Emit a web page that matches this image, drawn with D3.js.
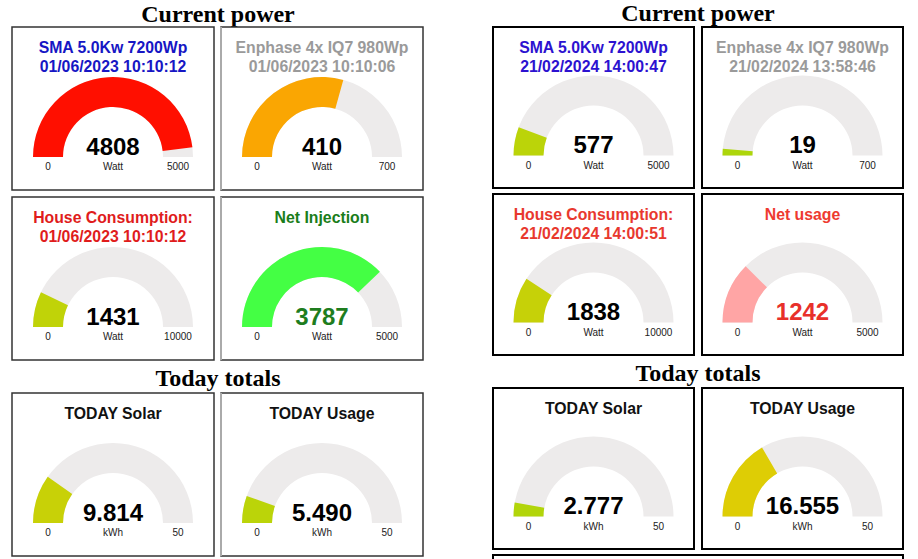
<!DOCTYPE html>
<html>
<head>
<meta charset="utf-8">
<script src="https://cdn.jsdelivr.net/npm/d3@7"></script>
<style>
  body { margin: 0; background: #fff; }
  text { font-family: "Liberation Sans", Arial, sans-serif; }
  .heading { font-family: "Liberation Serif", "Times New Roman", serif; font-weight: bold; font-size: 24px; fill: #000; }
</style>
</head>
<body>
<svg id="canvas"></svg>
<script>
// dashboard 1 (June 2023)
const leftTitles = [
    ["SMA 5.0Kw 7200Wp", "01/06/2023 10:10:12"],
    ["Enphase 4x IQ7 980Wp", "01/06/2023 10:10:06"],
    ["House Consumption:", "01/06/2023 10:10:12"],
    ["Net Injection"],
    ["TODAY Solar"],
    ["TODAY Usage"]
];
const leftValues = [4808, 410, 1431, 3787, 9.814, 5.490];
const leftMax = [5000, 700, 10000, 5000, 50, 50];

// dashboard 2 (February 2024)
const rightTitles = [
    ["SMA 5.0Kw 7200Wp", "21/02/2024 14:00:47"],
    ["Enphase 4x IQ7 980Wp", "21/02/2024 13:58:46"],
    ["House Consumption:", "21/02/2024 14:00:51"],
    ["Net usage"],
    ["TODAY Solar"],
    ["TODAY Usage"]
];
const rightValues = [577, 19, 1838, 1242, 2.777, 16.555];
const rightMax = [5000, 700, 10000, 5000, 50, 50];

const units = ["Watt", "Watt", "Watt", "Watt", "kWh", "kWh"];
const decimals = [0, 0, 0, 0, 3, 3];
const headings = ["Current power", "Today totals"];

const svg = d3.select("#canvas")
    .attr("width", 918)
    .attr("height", 559);

svg.append("rect").attr("width", 918).attr("height", 559).attr("fill", "#fff");

// justgage style level colours
const levelColor = d3.scaleLinear()
    .domain([0, 0.5, 1])
    .range(["#a9d70b", "#f9c802", "#ff0000"]);

const arc = d3.arc().innerRadius(50).outerRadius(80);

const panels = [
    {
        titles: leftTitles, values: leftValues, max: leftMax,
        cols: [12, 221], width: 202, rows: [27, 197, 393], height: 163,
        gaugeOffset: 130, headX: 218, headY: [22, 386],
        stroke: "#333", strokeWidth: 1.5, col2Stroke: "#aaa",
        titleColors: ["#1616c4", "#9a9a9a", "#e01c1c", "#1a7d1a", "#111", "#111"],
        valueColors: ["#000", "#000", "#000", "#1e7d1e", "#000", "#000"],
        fills: [null, null, null, "#44ff44", null, null],
        extra: false
    },
    {
        titles: rightTitles, values: rightValues, max: rightMax,
        cols: [493, 702], width: 201, rows: [27, 194, 388], height: 161,
        gaugeOffset: 128.5, headX: 698, headY: [21, 381],
        stroke: "#000", strokeWidth: 2, col2Stroke: "#000",
        titleColors: ["#2c12d0", "#9a9a9a", "#e8382e", "#ee3a30", "#111", "#111"],
        valueColors: ["#000", "#000", "#000", "#e8302a", "#000", "#000"],
        fills: [null, null, null, "#ffa5a5", null, null],
        extra: true
    }
];

const drawGauge = (g, p, i, bx, by) => {
    const cx = bx + p.width / 2;
    const cy = by + p.gaugeOffset;
    const angle = d3.scaleLinear()
        .domain([0, p.max[i]])
        .range([-Math.PI / 2, Math.PI / 2])
        .clamp(true);

    g.append("path")
        .attr("transform", `translate(${cx},${cy})`)
        .attr("d", arc({ startAngle: -Math.PI / 2, endAngle: Math.PI / 2 }))
        .attr("fill", "#edebeb");

    g.append("path")
        .attr("transform", `translate(${cx},${cy})`)
        .attr("d", arc({ startAngle: -Math.PI / 2, endAngle: angle(p.values[i]) }))
        .attr("fill", p.fills[i] || levelColor(p.values[i] / p.max[i]));

    // title lines
    p.titles[i].forEach((line, k) => {
        g.append("text")
            .attr("x", cx)
            .attr("y", by + 26 + k * 19)
            .attr("text-anchor", "middle")
            .attr("font-size", 15.8)
            .attr("font-weight", "bold")
            .attr("fill", p.titleColors[i])
            .text(line);
    });

    g.append("text")
        .attr("x", cx)
        .attr("y", cy - 2.5)
        .attr("text-anchor", "middle")
        .attr("font-size", 24)
        .attr("font-weight", "bold")
        .attr("fill", p.valueColors[i])
        .text(p.values[i].toFixed(decimals[i]));

    const labels = [
        { x: cx - 65, t: "0" },
        { x: cx, t: units[i] },
        { x: cx + 65, t: p.max[i] }
    ];
    g.selectAll(null)
        .data(labels)
        .enter()
        .append("text")
        .attr("x", d => d.x)
        .attr("y", cy + 13)
        .attr("text-anchor", "middle")
        .attr("font-size", 10)
        .attr("fill", "#222")
        .text(d => d.t);
}

panels.forEach(p => {
    const g = svg.append("g");

    headings.forEach((h, k) => {
        g.append("text")
            .attr("class", "heading")
            .attr("x", p.headX)
            .attr("y", p.headY[k])
            .attr("text-anchor", "middle")
            .text(h);
    });

    p.titles.forEach((t, i) => {
        const col = i % 2;
        const bx = p.cols[col];
        const by = p.rows[Math.floor(i / 2)];

        g.append("rect")
            .attr("x", bx)
            .attr("y", by)
            .attr("width", p.width)
            .attr("height", p.height)
            .attr("fill", "#fff")
            .attr("stroke", p.stroke)
            .attr("stroke-width", p.strokeWidth);

        if (col === 1 && p.col2Stroke !== p.stroke) {
            g.append("line")
                .attr("x1", bx).attr("x2", bx)
                .attr("y1", by).attr("y2", by + p.height)
                .attr("stroke", p.col2Stroke)
                .attr("stroke-width", 2);
        }

        drawGauge(g, p, i, bx, by);
    });

    if (p.extra) {
        // top of the next box, cut off by the screenshot
        g.append("rect")
            .attr("x", p.cols[0])
            .attr("y", 555)
            .attr("width", p.cols[1] + p.width - p.cols[0])
            .attr("height", 40)
            .attr("fill", "#fff")
            .attr("stroke", p.stroke)
            .attr("stroke-width", p.strokeWidth);
    }
});
</script>
</body>
</html>
